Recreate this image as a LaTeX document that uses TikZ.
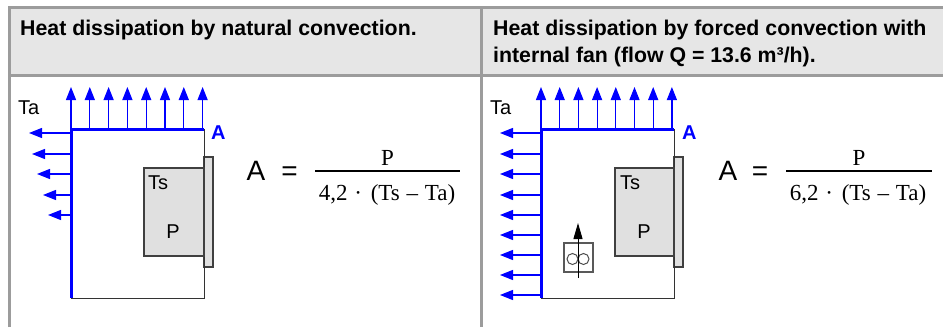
\documentclass[tikz,border=0pt]{standalone}
\usepackage{fontspec}
\setmainfont{Liberation Serif}
\setsansfont{Liberation Sans}
\usetikzlibrary{arrows.meta}
\definecolor{rulegray}{HTML}{9C9C9C}
\definecolor{headgray}{HTML}{E6E6E6}
\definecolor{partgray}{HTML}{E0E0E0}
\newcommand{\hdfont}{\sffamily\bfseries\fontsize{21.3}{25}\selectfont}
\newcommand{\lbfont}{\sffamily\fontsize{20}{23}\selectfont}
\newcommand{\eqfont}{\sffamily\fontsize{28}{30}\selectfont}
\newcommand{\frfont}{\rmfamily\fontsize{23}{26}\selectfont}

\begin{document}
\begin{tikzpicture}[x=1pt,y=-1pt,
  every node/.style={inner sep=0pt},
  flow/.style={blue,line width=1.2pt,-{Triangle[length=13pt,width=10pt]}},
  wall/.style={blue,line width=3pt},
  part/.style={fill=partgray,draw=black!75,line width=1.2pt},
  casing/.style={draw=black!80,line width=1pt}]
\useasboundingbox (0,0) rectangle (943,327);

% table
\fill [headgray] (9.5,7.5) rectangle (943,75.5);
\draw [rulegray,line width=3pt] (9.5,327) -- (9.5,7.5) -- (943,7.5);
\draw [rulegray,line width=3pt] (9.5,75.5) -- (943,75.5);
\draw [rulegray,line width=3pt] (481.5,7.5) -- (481.5,327);
\node [anchor=base west,font=\hdfont] (head1) at (20,35) {Heat dissipation by natural convection.};
\node [anchor=base west,font=\hdfont] (head2) at (493,35) {Heat dissipation by forced convection with};
\node [anchor=base west,font=\hdfont] (head3) at (493,62) {internal fan (flow Q = 13.6 m³/h).};

% natural convection
\draw [part] (204,157) rectangle (213,267);
\draw [casing] (71,129) rectangle (204,298);
\draw [part] (144,168) rectangle (204,256);
\foreach \i in {0,...,7}
  \draw [flow] (71+18.8*\i,129) -- (71+18.8*\i,87);
\foreach \y/\t in {133/29,154/32,174/37,195/43,215/48}
  \draw [flow] (71,\y) -- (\t,\y);
\draw [wall] (71,298) -- (71,129) -- (204,129);
\node [anchor=base west,font=\lbfont] (ta1) at (18,114) {Ta};
\node [anchor=base west,font=\sffamily\bfseries\fontsize{20}{22}\selectfont,text=blue] (area1) at (211,139) {A};
\node [anchor=base west,font=\lbfont] (ts1) at (148,189) {Ts};
\node [font=\lbfont] (p1) at (173,232) {P};

\node [anchor=base,font=\eqfont] (lhs1) at (256,180) {A};
\node [anchor=base,font=\eqfont] (eq1) at (289.5,180) {=};
\draw [line width=2.5pt] (315,171) -- (460,171);
\node [anchor=base,font=\frfont] (num1) at (387.5,165) {P};
\node [anchor=base,font=\frfont] (den1) at (387,200) {4,2\hspace{1pt} · \hspace{3pt}(Ts\hspace{1pt} – \hspace{1pt}Ta)};

% forced convection
\draw [part] (674,157) rectangle (683,267);
\draw [casing] (541,129) rectangle (674,298);
\draw [part] (615,168) rectangle (674,256);
\foreach \i in {0,...,7}
  \draw [flow] (541+18.7*\i,129) -- (541+18.7*\i,87);
\foreach \y in {133,154,174,195,215,235,255,275,295}
  \draw [flow] (541,\y) -- (500,\y);
\draw [wall] (541,298) -- (541,129) -- (674,129);
\node [anchor=base west,font=\lbfont] (ta2) at (490,114) {Ta};
\node [anchor=base west,font=\sffamily\bfseries\fontsize{20}{22}\selectfont,text=blue] (area2) at (682,139) {A};
\node [anchor=base west,font=\lbfont] (ts2) at (620,189) {Ts};
\node [font=\lbfont] (p2) at (644,232) {P};

\node [draw=black!65,line width=1.2pt,minimum size=29pt] (fan) at (578.5,257.5) {};
\draw [black!70,line width=1pt] (572.5,259) circle[radius=5.5] (583.5,259) circle[radius=5.5];
\coordinate (fanin) at (578,278);
\coordinate (fanout) at (578,223);
\draw [line width=1pt,-{Triangle[length=16pt,width=9pt]}] (fanin) -- (fanout);

\node [anchor=base,font=\eqfont] (lhs2) at (728,180) {A};
\node [anchor=base,font=\eqfont] (eq2) at (760,180) {=};
\draw [line width=2.5pt] (786,171) -- (932,171);
\node [anchor=base,font=\frfont] (num2) at (859,165) {P};
\node [anchor=base,font=\frfont] (den2) at (858,200) {6,2\hspace{1pt} · \hspace{3pt}(Ts\hspace{1pt} – \hspace{1pt}Ta)};
\end{tikzpicture}
\end{document}
